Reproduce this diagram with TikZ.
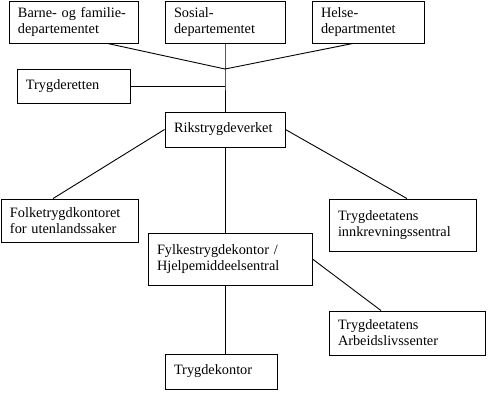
\documentclass[tikz,border=0pt]{standalone}
\usepackage{fontspec}
\setmainfont{Liberation Serif}
\usetikzlibrary{calc}
\begin{document}
\begin{tikzpicture}[x=1bp,y=-1bp,
  orgbox/.style 2 args={draw=black, line width=0.9bp, rectangle, inner xsep=9bp, inner ysep=0pt,
     text width=#1bp-18bp, minimum height=#2bp, align=left,
     font=\fontsize{14.3bp}{16bp}\selectfont},
  link/.style={draw=black, line width=0.9bp}]
\useasboundingbox (0,0) rectangle (500,401);
\fill[white] (0,0) rectangle (500,401);
\node[orgbox={129}{42}] (barne) at (73.5,22) {Barne- og familie-\\departementet};
\node[orgbox={120}{42}] (sosial) at (225,22) {Sosial-\\departementet};
\node[orgbox={112}{42}] (helse) at (368,22) {Helse-\\departmentet};
\node[orgbox={113}{34}] (tryg) at (73.5,86) {Trygderetten};
\node[orgbox={120}{35}] (riks) at (225,129.5) {Rikstrygdeverket};
\node[orgbox={137}{43}] (folke) at (69.5,220.5) {Folketrygdkontoret\\for utenlandssaker};
\node[orgbox={147}{52}] (innk) at (402.5,225) {Trygdeetatens\\innkrevningssentral};
\node[orgbox={164}{52}] (fylke) at (230,259) {Fylkestrygdekontor /\\Hjelpemiddeelsentral};
\node[orgbox={156}{44}] (arb) at (407,333) {Trygdeetatens\\Arbeidslivssenter};
\node[orgbox={112}{35}] (tk) at (221,371.5) {Trygdekontor};
\coordinate (j) at (225,69);
\draw[link] ([xshift=-31bp]barne.south east) -- (j);
\draw[link] ([xshift=-15bp]helse.south) -- (j);
\draw[link] (sosial.south) -- (j) -- (riks.north);
\draw[link] (tryg.east) -- (tryg.east -| riks.north);
\draw[link] (riks.west) -- ([xshift=-16.5bp]folke.north);
\draw[link] (riks.east) -- ([xshift=4.5bp]innk.north);
\draw[link] (riks.south) -- (riks.south |- fylke.north);
\draw[link] (fylke.east) -- ([xshift=-26bp]arb.north);
\draw[link] (riks.south |- fylke.south) -- (riks.south |- tk.north);
\end{tikzpicture}
\end{document}
